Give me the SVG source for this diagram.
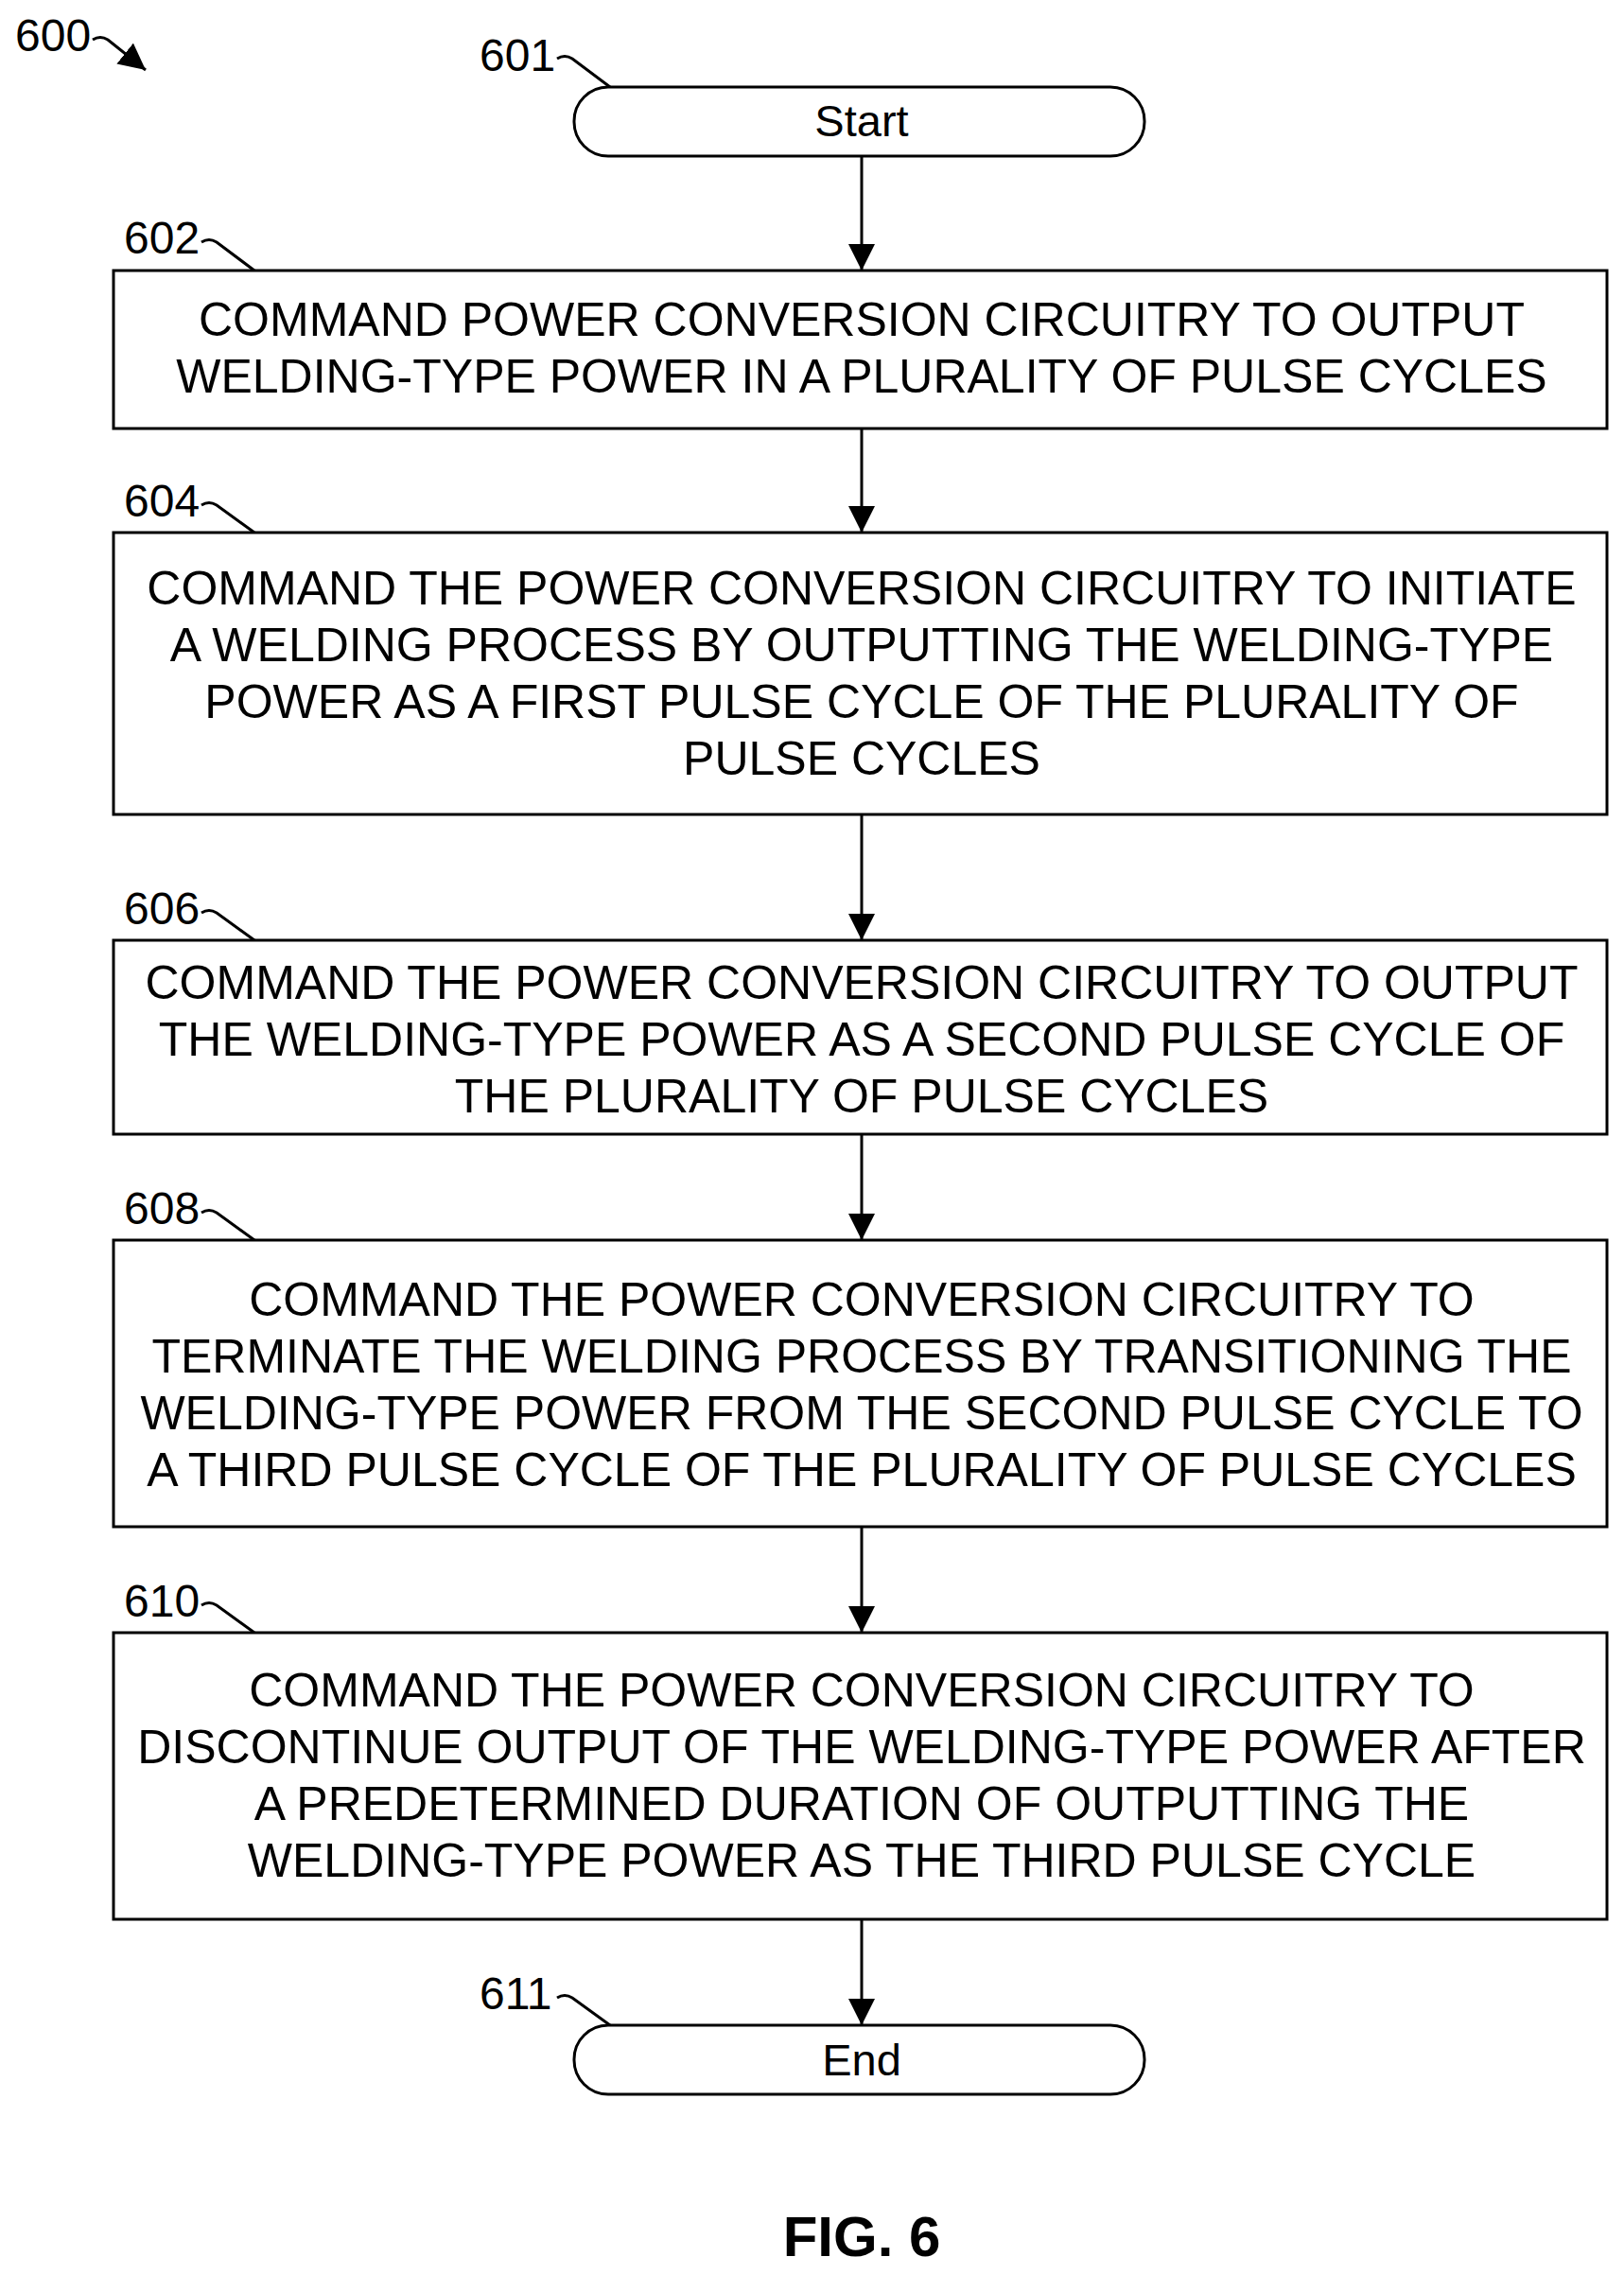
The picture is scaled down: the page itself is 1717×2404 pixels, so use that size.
<svg xmlns="http://www.w3.org/2000/svg" width="1717" height="2404" viewBox="0 0 1717 2404">
<style>
.b{fill:#fff;stroke:#000;stroke-width:3}
.t{font-family:"Liberation Sans",Arial,sans-serif;font-size:50px;text-anchor:middle;fill:#000}
.s{font-family:"Liberation Sans",Arial,sans-serif;font-size:47px;text-anchor:middle;fill:#000}
.l{font-family:"Liberation Sans",Arial,sans-serif;font-size:48px;fill:#000}
.c{stroke:#000;stroke-width:3;fill:none}
</style>
<defs>
<marker id="ah" viewBox="0 0 10 10" refX="10" refY="5" markerWidth="28" markerHeight="28" orient="auto" markerUnits="userSpaceOnUse"><path d="M0,0L10,5L0,10z" fill="#000"/></marker></defs>
<g id="connectors">
<line class="c" x1="911" y1="165" x2="911" y2="286" marker-end="url(#ah)"/>
<line class="c" x1="911" y1="453" x2="911" y2="563" marker-end="url(#ah)"/>
<line class="c" x1="911" y1="861" x2="911" y2="994" marker-end="url(#ah)"/>
<line class="c" x1="911" y1="1199" x2="911" y2="1311" marker-end="url(#ah)"/>
<line class="c" x1="911" y1="1614" x2="911" y2="1726" marker-end="url(#ah)"/>
<line class="c" x1="911" y1="2029" x2="911" y2="2141" marker-end="url(#ah)"/>
</g>
<g id="n600"><text class="l" x="16" y="54">600</text><path class="c" d="M98,42 q8,-5 16,0 L154,74" marker-end="url(#ah)"/></g>
<g id="n601"><text class="l" x="507" y="75">601</text><path class="c" d="M589,62 q8,-5 16,0 L645,92"/><rect class="b" x="607" y="92" width="603" height="73" rx="36"/><text class="s" x="911" y="144">Start</text></g>
<g id="n602"><text class="l" x="131" y="268">602</text><path class="c" d="M213,256 q8,-5 16,0 L269,286"/><rect class="b" x="120" y="286" width="1579" height="167"/><text class="t" x="911" y="355">COMMAND POWER CONVERSION CIRCUITRY TO OUTPUT</text><text class="t" x="911" y="415">WELDING-TYPE POWER IN A PLURALITY OF PULSE CYCLES</text></g>
<g id="n604"><text class="l" x="131" y="546">604</text><path class="c" d="M213,534 q8,-5 16,0 L269,563"/><rect class="b" x="120" y="563" width="1579" height="298"/><text class="t" x="911" y="639">COMMAND THE POWER CONVERSION CIRCUITRY TO INITIATE</text><text class="t" x="911" y="699">A WELDING PROCESS BY OUTPUTTING THE WELDING-TYPE</text><text class="t" x="911" y="759">POWER AS A FIRST PULSE CYCLE OF THE PLURALITY OF</text><text class="t" x="911" y="819">PULSE CYCLES</text></g>
<g id="n606"><text class="l" x="131" y="977">606</text><path class="c" d="M213,965 q8,-5 16,0 L269,994"/><rect class="b" x="120" y="994" width="1579" height="205"/><text class="t" x="911" y="1056">COMMAND THE POWER CONVERSION CIRCUITRY TO OUTPUT</text><text class="t" x="911" y="1116">THE WELDING-TYPE POWER AS A SECOND PULSE CYCLE OF</text><text class="t" x="911" y="1176">THE PLURALITY OF PULSE CYCLES</text></g>
<g id="n608"><text class="l" x="131" y="1294">608</text><path class="c" d="M213,1282 q8,-5 16,0 L269,1311"/><rect class="b" x="120" y="1311" width="1579" height="303"/><text class="t" x="911" y="1391">COMMAND THE POWER CONVERSION CIRCUITRY TO</text><text class="t" x="911" y="1451">TERMINATE THE WELDING PROCESS BY TRANSITIONING THE</text><text class="t" x="911" y="1511">WELDING-TYPE POWER FROM THE SECOND PULSE CYCLE TO</text><text class="t" x="911" y="1571">A THIRD PULSE CYCLE OF THE PLURALITY OF PULSE CYCLES</text></g>
<g id="n610"><text class="l" x="131" y="1709">610</text><path class="c" d="M213,1697 q8,-5 16,0 L269,1726"/><rect class="b" x="120" y="1726" width="1579" height="303"/><text class="t" x="911" y="1804">COMMAND THE POWER CONVERSION CIRCUITRY TO</text><text class="t" x="911" y="1864">DISCONTINUE OUTPUT OF THE WELDING-TYPE POWER AFTER</text><text class="t" x="911" y="1924">A PREDETERMINED DURATION OF OUTPUTTING THE</text><text class="t" x="911" y="1984">WELDING-TYPE POWER AS THE THIRD PULSE CYCLE</text></g>
<g id="n611"><text class="l" x="507" y="2124">611</text><path class="c" d="M589,2112 q8,-5 16,0 L645,2141"/><rect class="b" x="607" y="2141" width="603" height="73" rx="36"/><text class="s" x="911" y="2194">End</text></g>
<text x="911" y="2385" style="font-family:'Liberation Sans',Arial,sans-serif;font-size:60px;font-weight:bold;text-anchor:middle">FIG. 6</text>
</svg>
